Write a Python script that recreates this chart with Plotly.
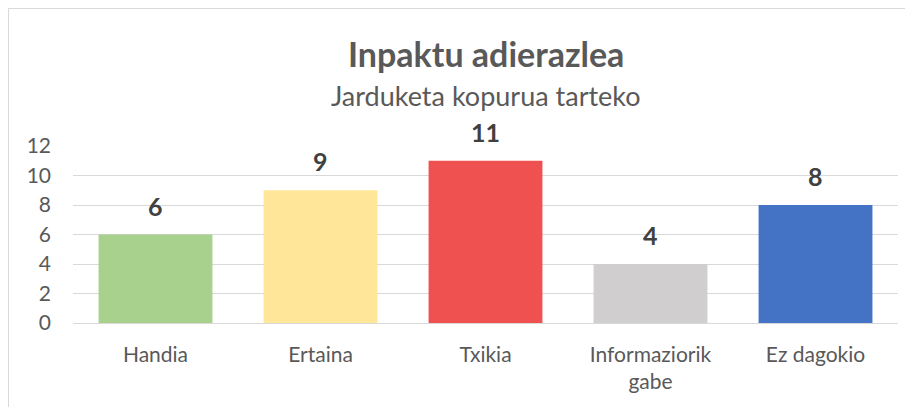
import plotly.graph_objects as go

categories = ["Handia", "Ertaina", "Txikia", "Informaziorik<br>gabe", "Ez dagokio"]
values = [6, 9, 11, 4, 8]
colors = ["#a9d18e", "#ffe699", "#ef5050", "#d0cece", "#4472c4"]
y_ticks = [0, 2, 4, 6, 8, 10, 12]

FONT = "Lato, 'Open Sans', sans-serif"
# page body has an 8px margin, so the figure origin sits at (8, 8) in the window
W, H = 913, 407
L, T = 65, 138
PLOT_RIGHT, PLOT_BOTTOM = 890, 315
R, B = W - PLOT_RIGHT, H - PLOT_BOTTOM
PW = W - L - R
PH = H - T - B

fig = go.Figure()
fig.add_trace(go.Bar(
    x=categories, y=values, marker=dict(color=colors, line=dict(width=0)),
    hoverinfo="skip",
))

for c, v in zip(categories, values):
    fig.add_annotation(x=c, y=v, text=f"<b>{v}</b>", showarrow=False,
                       yanchor="bottom", yshift=12,
                       font=dict(family=FONT, size=25, color="#404040"))

def px_x(p):
    return (p - L) / PW

def px_y(p):
    return (H - B - p) / PH

fig.add_annotation(xref="paper", yref="paper", x=0.5, y=px_y(45), text="<b>Inpaktu adierazlea</b>",
                   showarrow=False, yanchor="middle",
                   font=dict(family=FONT, size=34, color="#595959"))
fig.add_annotation(xref="paper", yref="paper", x=0.5, y=px_y(88), text="Jarduketa kopurua tarteko",
                   showarrow=False, yanchor="middle",
                   font=dict(family=FONT, size=27, color="#595959"))

fig.add_shape(type="rect", xref="paper", yref="paper",
              x0=px_x(0.5), x1=px_x(W - 0.5), y0=px_y(H - 0.5), y1=px_y(0.5),
              line=dict(color="#d9d9d9", width=1), layer="below")

fig.update_layout(
    width=W, height=H,
    margin=dict(l=L, r=R, t=T, b=B, autoexpand=False),
    paper_bgcolor="white", plot_bgcolor="white",
    bargap=0.31, showlegend=False,
    font=dict(family=FONT, color="#595959"),
    xaxis=dict(showgrid=False, showline=False, ticks="", ticklabelstandoff=17, automargin=False,
               tickfont=dict(family=FONT, size=21, color="#595959")),
    yaxis=dict(range=[0, 12], tickvals=y_ticks, showgrid=True, gridcolor="#d9d9d9", gridwidth=1.3,
               zeroline=True, zerolinecolor="#d9d9d9", zerolinewidth=1.3, automargin=False,
               showline=False, ticks="", ticklabelstandoff=21,
               tickfont=dict(family=FONT, size=21, color="#595959")),
)

fig.write_html("out.html")
